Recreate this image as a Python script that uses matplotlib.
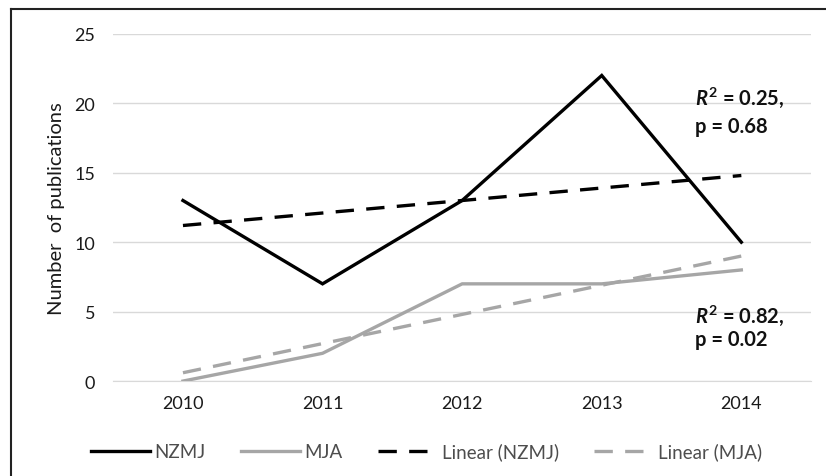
import matplotlib
matplotlib.use("Agg")
import matplotlib.pyplot as plt
import numpy as np
from matplotlib.lines import Line2D

years = ["2010", "2011", "2012", "2013", "2014"]
nzmj = [13, 7, 13, 22, 10]
mja = [0, 2, 7, 7, 8]
yticks = [0, 5, 10, 15, 20, 25]
ann_nzmj = ["$\\mathit{R}^{2}$ = 0.25,", "p = 0.68"]
ann_mja = ["$\\mathit{R}^{2}$ = 0.82,", "p = 0.02"]

plt.rcParams['font.family'] = ['Lato', 'DejaVu Sans']
plt.rcParams['mathtext.fontset'] = 'custom'
plt.rcParams['mathtext.rm'] = 'Lato:bold'
plt.rcParams['mathtext.it'] = 'Lato:bold:italic'

fig = plt.figure(figsize=(8.26, 4.77), dpi=100)
ax = fig.add_axes([0.137, 0.199, 0.845, 0.728])

x = np.arange(len(years))
black = "#000000"
gray = "#a6a6a6"

ax.plot(x, nzmj, color=black, lw=2.4, solid_joinstyle='miter', zorder=3, label="NZMJ")
ax.plot(x, mja, color=gray, lw=2.4, zorder=3, label="MJA")
c1 = np.polyfit(x, nzmj, 1)
c2 = np.polyfit(x, mja, 1)
ax.plot(x, np.polyval(c1, x), color=black, lw=2.4, dashes=(5.5, 3.7), zorder=2, label="Linear (NZMJ)")
ax.plot(x, np.polyval(c2, x), color=gray, lw=2.4, dashes=(5.5, 3.7), zorder=2, label="Linear (MJA)")

ax.set_xlim(-0.5, len(years) - 0.5)
ax.set_ylim(0, 25)
ax.set_yticks(yticks)
ax.set_xticks(x)
ax.set_xticklabels(years)
ax.tick_params(axis='both', length=0, labelsize=13, colors="#1a1a1a")
ax.tick_params(axis='x', pad=10)
ax.tick_params(axis='y', pad=13)
ax.grid(axis='y', color="#d9d9d9", lw=1)
ax.set_axisbelow(True)
for s in ["top", "right", "left"]:
    ax.spines[s].set_visible(False)
ax.spines["bottom"].set_color("#d9d9d9")
ax.set_ylabel("Number  of publications", fontsize=14.5, color="#1a1a1a")
ax.yaxis.set_label_coords(-0.069, 0.5)

kw = dict(fontsize=14.5, fontweight='bold', ha='left', va='center', color="#111111")
ax.text(3.67, 20.46, ann_nzmj[0], **kw)
ax.text(3.67, 18.37, ann_nzmj[1], **kw)
ax.text(3.67, 4.75, ann_mja[0], **kw)
ax.text(3.67, 3.0, ann_mja[1], **kw)

handles, labels = ax.get_legend_handles_labels()
leg = fig.legend(handles, labels, loc='center', bbox_to_anchor=(0.516, 0.052), ncol=4,
                 frameon=False, fontsize=13.5, handlelength=3.15, columnspacing=1.85,
                 handletextpad=0.27)
for t in leg.get_texts():
    t.set_color("#4d4d4d")

# outer frame (left and top)
fig.add_artist(Line2D([0.0135, 0.0135], [0, 0.979], color="#222222", lw=1.5, transform=fig.transFigure))
fig.add_artist(Line2D([0.0135, 1.0], [0.979, 0.979], color="#222222", lw=1.5, transform=fig.transFigure))

fig.savefig("out.png", dpi=100)
